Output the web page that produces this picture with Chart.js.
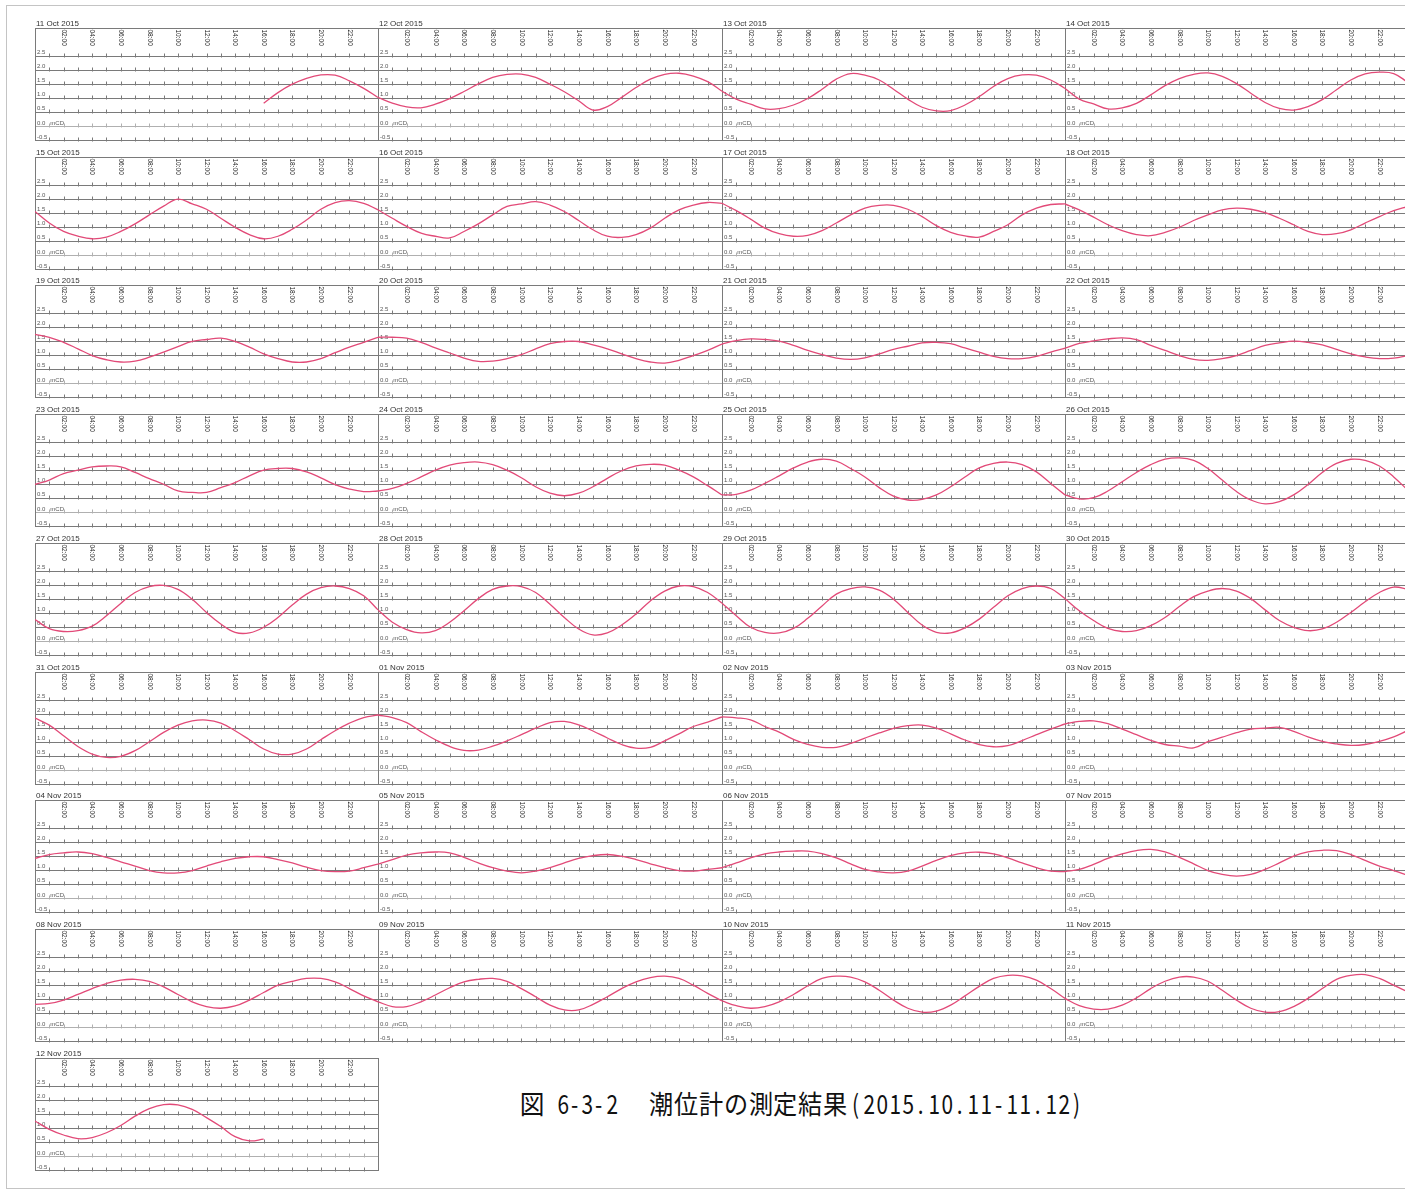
<!DOCTYPE html>
<html>
<head>
<meta charset="utf-8">
<script src="https://cdn.jsdelivr.net/npm/chart.js@4.4.0/dist/chart.umd.min.js"></script>
<style>
  html, body { margin: 0; padding: 0; background: #fff; }
  #page { position: relative; width: 1405px; height: 1192px; overflow: hidden; background: #fff; }
  #frame { position: absolute; left: 6px; top: 5px; width: 1420px; height: 1184px; border: 1px solid #c4c4c4; box-sizing: border-box; }
  canvas.panel { position: absolute; }
  .capseg { position: absolute; top: 1090px; height: 27px; white-space: nowrap; font-family: "Noto Sans CJK JP", sans-serif;
            font-size: 26px; line-height: 26px; color: #111; }
  .capseg span { display: inline-block; text-align: center; }
  .capseg span i { display: inline-block; font-style: normal; }
</style>
</head>
<body>
<div id="page">
  <div id="frame"></div>
</div>
<script>
// Tide level (m, CD) read hourly, 00:00 .. 23:00 of each day.
const oct11 = [null,null,null,null,null,null,null,null,null,null,null,null,null,null,null,null,0.82,1.20,1.50,1.71,1.83,1.82,1.62,1.35];
const oct12 = [1.03,0.83,0.69,0.66,0.79,0.99,1.24,1.51,1.74,1.85,1.86,1.74,1.50,1.23,0.91,0.58,0.70,1.03,1.38,1.68,1.85,1.89,1.79,1.59];
const oct13 = [1.25,0.97,0.79,0.62,0.63,0.76,0.99,1.32,1.68,1.88,1.82,1.65,1.32,0.97,0.68,0.55,0.56,0.76,1.06,1.42,1.70,1.83,1.82,1.65];
const oct14 = [1.35,0.97,0.80,0.62,0.66,0.82,1.12,1.45,1.70,1.85,1.90,1.78,1.52,1.18,0.85,0.64,0.58,0.70,0.95,1.30,1.65,1.87,1.93,1.88];
const oct15 = [1.56,1.15,0.85,0.68,0.59,0.65,0.85,1.12,1.44,1.75,2.00,1.83,1.64,1.32,1.00,0.74,0.59,0.68,0.93,1.26,1.64,1.88,1.95,1.85];
const oct16 = [1.62,1.32,1.03,0.79,0.68,0.62,0.85,1.12,1.44,1.74,1.83,1.91,1.79,1.56,1.24,0.91,0.68,0.64,0.74,0.97,1.32,1.62,1.79,1.88];
const oct17 = [1.85,1.59,1.29,0.97,0.77,0.68,0.71,0.88,1.15,1.44,1.68,1.78,1.78,1.64,1.38,1.06,0.82,0.69,0.65,0.85,1.09,1.44,1.68,1.81];
const oct18 = [1.83,1.62,1.36,1.09,0.88,0.74,0.70,0.82,1.00,1.24,1.44,1.62,1.68,1.64,1.52,1.32,1.09,0.85,0.74,0.77,0.91,1.15,1.38,1.59];
const oct19 = [1.74,1.64,1.46,1.23,0.99,0.84,0.76,0.79,0.93,1.11,1.31,1.49,1.56,1.61,1.49,1.29,1.05,0.88,0.76,0.76,0.88,1.09,1.29,1.46];
const oct20 = [1.64,1.64,1.61,1.46,1.26,1.08,0.90,0.78,0.79,0.88,1.02,1.23,1.41,1.49,1.49,1.37,1.23,1.05,0.88,0.76,0.72,0.82,0.99,1.17];
const oct21 = [1.40,1.52,1.58,1.56,1.50,1.35,1.17,1.02,0.90,0.85,0.91,1.05,1.21,1.32,1.44,1.46,1.41,1.26,1.11,0.96,0.88,0.88,0.96,1.11];
const oct22 = [1.25,1.42,1.51,1.58,1.62,1.56,1.35,1.17,0.99,0.85,0.82,0.88,0.99,1.17,1.35,1.44,1.50,1.46,1.37,1.21,1.05,0.94,0.88,0.90];
const oct23 = [0.99,1.15,1.38,1.50,1.62,1.65,1.62,1.42,1.20,1.00,0.76,0.71,0.71,0.88,1.06,1.30,1.50,1.56,1.56,1.44,1.23,0.99,0.83,0.74];
const oct24 = [0.76,0.85,1.03,1.26,1.50,1.68,1.77,1.79,1.70,1.50,1.23,0.91,0.68,0.59,0.68,0.91,1.21,1.48,1.65,1.71,1.68,1.50,1.26,0.95];
const oct25 = [0.62,0.64,0.79,1.03,1.30,1.58,1.79,1.89,1.82,1.56,1.26,0.88,0.58,0.44,0.46,0.62,0.91,1.26,1.58,1.74,1.79,1.70,1.44,1.03];
const oct26 = [0.62,0.48,0.52,0.76,1.09,1.42,1.70,1.89,1.94,1.85,1.56,1.15,0.74,0.44,0.30,0.38,0.62,0.99,1.42,1.74,1.89,1.85,1.65,1.26];
const oct27 = [0.78,0.45,0.35,0.38,0.54,0.91,1.35,1.74,1.95,1.99,1.85,1.50,1.03,0.62,0.32,0.30,0.50,0.85,1.29,1.68,1.91,1.97,1.88,1.62];
const oct28 = [1.12,0.68,0.42,0.30,0.38,0.68,1.09,1.52,1.85,1.97,1.95,1.74,1.32,0.85,0.44,0.23,0.30,0.58,0.97,1.44,1.79,1.97,1.95,1.74];
const oct29 = [1.36,0.91,0.50,0.32,0.30,0.46,0.82,1.26,1.68,1.88,1.94,1.82,1.50,1.03,0.58,0.32,0.30,0.48,0.79,1.21,1.62,1.88,1.97,1.88];
const oct30 = [1.52,1.09,0.74,0.46,0.35,0.38,0.56,0.85,1.24,1.59,1.79,1.88,1.79,1.52,1.12,0.74,0.50,0.38,0.44,0.68,1.03,1.41,1.74,1.93];
const oct31 = [1.86,1.61,1.23,0.85,0.58,0.46,0.50,0.70,1.02,1.35,1.61,1.76,1.79,1.68,1.41,1.09,0.76,0.58,0.58,0.76,1.09,1.41,1.68,1.88];
const nov01 = [1.97,1.88,1.70,1.38,1.09,0.85,0.71,0.72,0.86,1.05,1.27,1.50,1.70,1.74,1.62,1.40,1.15,0.92,0.79,0.82,1.05,1.30,1.56,1.72];
const nov02 = [1.90,1.87,1.80,1.56,1.36,1.10,0.92,0.82,0.82,0.96,1.15,1.33,1.49,1.59,1.61,1.50,1.30,1.08,0.92,0.84,0.88,1.06,1.27,1.47];
const nov03 = [1.65,1.74,1.76,1.66,1.47,1.27,1.07,0.92,0.86,0.80,1.02,1.18,1.34,1.47,1.50,1.53,1.39,1.19,1.03,0.94,0.89,0.92,1.03,1.19];
const nov04 = [1.42,1.56,1.62,1.65,1.59,1.46,1.30,1.15,0.99,0.91,0.91,0.99,1.15,1.30,1.42,1.48,1.48,1.38,1.26,1.11,0.99,0.95,0.97,1.09];
const nov05 = [1.22,1.38,1.54,1.62,1.65,1.62,1.46,1.26,1.09,0.97,0.91,0.97,1.09,1.26,1.42,1.52,1.56,1.50,1.38,1.23,1.09,0.99,0.97,1.03];
const nov06 = [1.09,1.26,1.44,1.58,1.65,1.68,1.68,1.59,1.44,1.23,1.03,0.94,0.91,0.97,1.15,1.35,1.52,1.62,1.64,1.58,1.44,1.26,1.09,0.97];
const nov07 = [0.95,1.03,1.21,1.42,1.58,1.70,1.74,1.65,1.46,1.23,0.99,0.85,0.79,0.85,1.03,1.26,1.50,1.65,1.71,1.70,1.56,1.35,1.15,0.99];
const nov08 = [0.82,0.85,0.97,1.17,1.38,1.56,1.68,1.71,1.64,1.44,1.17,0.91,0.74,0.68,0.76,0.97,1.24,1.50,1.64,1.74,1.74,1.62,1.38,1.12];
const nov09 = [0.91,0.74,0.74,0.91,1.15,1.41,1.62,1.71,1.74,1.64,1.38,1.09,0.79,0.62,0.62,0.82,1.09,1.38,1.62,1.77,1.82,1.74,1.50,1.21];
const nov10 = [0.94,0.77,0.68,0.74,0.91,1.17,1.48,1.74,1.82,1.79,1.62,1.32,0.97,0.68,0.54,0.58,0.79,1.12,1.46,1.74,1.85,1.83,1.68,1.38];
const nov11 = [1.03,0.77,0.65,0.65,0.79,1.05,1.38,1.64,1.79,1.79,1.64,1.32,0.97,0.68,0.54,0.56,0.74,1.03,1.38,1.71,1.85,1.88,1.74,1.50];
const nov12 = [1.26,0.96,0.76,0.63,0.67,0.84,1.10,1.43,1.70,1.84,1.83,1.67,1.38,1.06,0.70,0.55,0.61,null,null,null,null,null,null,null];

const dayLabels = ['11 Oct 2015','12 Oct 2015','13 Oct 2015','14 Oct 2015','15 Oct 2015','16 Oct 2015','17 Oct 2015','18 Oct 2015',
  '19 Oct 2015','20 Oct 2015','21 Oct 2015','22 Oct 2015','23 Oct 2015','24 Oct 2015','25 Oct 2015','26 Oct 2015',
  '27 Oct 2015','28 Oct 2015','29 Oct 2015','30 Oct 2015','31 Oct 2015','01 Nov 2015','02 Nov 2015','03 Nov 2015',
  '04 Nov 2015','05 Nov 2015','06 Nov 2015','07 Nov 2015','08 Nov 2015','09 Nov 2015','10 Nov 2015','11 Nov 2015','12 Nov 2015'];
const daySeries = [oct11,oct12,oct13,oct14,oct15,oct16,oct17,oct18,oct19,oct20,oct21,oct22,oct23,oct24,oct25,oct26,
  oct27,oct28,oct29,oct30,oct31,nov01,nov02,nov03,nov04,nov05,nov06,nov07,nov08,nov09,nov10,nov11,nov12];
const hourLabels = ['02:00','04:00','06:00','08:00','10:00','12:00','14:00','16:00','18:00','20:00','22:00'];
const levelTicks = [-0.5, 0.0, 0.5, 1.0, 1.5, 2.0, 2.5];
const captionParts = ['図', '6-3-2', '潮位計の測定結果', '(2015.10.11-11.12)'];

// Panel grid geometry
const COLS = 4;
const colX = [35, 378, 722, 1065, 1408];
const rowTop = r => Math.round(28 + r * 128.7);
const BOX_H = 114;
const PAD = { left: 4, right: 4, top: 16, bottom: 4 };

// Draws the hour ticks on every level line, the rotated clock labels, the box and the date.
const panelDecor = {
  id: 'panelDecor',
  beforeDatasetsDraw(chart, args, opts) {
    const { ctx, chartArea: a, scales: { x, y } } = chart;
    ctx.save();
    ctx.lineWidth = 1;
    for (const lv of levelTicks) {
      const py = Math.round(y.getPixelForValue(lv)) + 0.5;
      ctx.strokeStyle = lv === 0 ? '#b0b0b0' : '#7a7a7a';
      ctx.beginPath();
      for (let h = 1; h < 24; h++) {
        const px = Math.round(x.getPixelForValue(h)) + 0.5;
        ctx.moveTo(px, py - 3);
        ctx.lineTo(px, py + 1);
      }
      ctx.stroke();
    }
    ctx.fillStyle = '#222';
    ctx.font = '6.5px "Liberation Sans", Arial, sans-serif';
    ctx.textAlign = 'left';
    ctx.textBaseline = 'middle';
    for (const lab of hourLabels) {
      const px = x.getPixelForValue(parseInt(lab, 10));
      ctx.save();
      ctx.translate(px, a.top + 1.5);
      ctx.rotate(Math.PI / 2);
      ctx.fillText(lab, 0, 0);
      ctx.restore();
    }
    ctx.strokeStyle = '#7a7a7a';
    ctx.strokeRect(Math.round(a.left) + 0.5, Math.round(a.top) + 0.5, Math.round(a.right - a.left), Math.round(a.bottom - a.top));
    ctx.fillStyle = '#333';
    ctx.font = '8px "Liberation Sans", Arial, sans-serif';
    ctx.textBaseline = 'alphabetic';
    ctx.fillText(opts.title, a.left + 1, a.top - 2);
    ctx.restore();
  }
};

const page = document.getElementById('page');
daySeries.forEach((vals, i) => {
  const r = Math.floor(i / COLS), c = i % COLS;
  const left = colX[c], w = colX[c + 1] - colX[c], top = rowTop(r);
  const cv = document.createElement('canvas');
  cv.className = 'panel';
  const cw = w + PAD.left + PAD.right, ch = BOX_H + PAD.top + PAD.bottom;
  cv.width = cw; cv.height = ch;
  cv.style.width = cw + 'px'; cv.style.height = ch + 'px';
  cv.style.left = (left - PAD.left) + 'px';
  cv.style.top = (top - PAD.top) + 'px';
  page.appendChild(cv);

  const next = daySeries[i + 1];
  const pts = vals.map((v, h) => ({ x: h, y: v }));
  pts.push({ x: 24, y: next ? next[0] : null });

  new Chart(cv, {
    type: 'line',
    data: { datasets: [{ data: pts, borderColor: '#e24a78', borderWidth: 1.3, pointRadius: 0, tension: 0.4, fill: false, spanGaps: false }] },
    options: {
      responsive: false, animation: false, devicePixelRatio: 1,
      layout: { padding: PAD },
      scales: {
        x: { type: 'linear', min: 0, max: 24, display: false },
        y: {
          min: -0.5, max: 3.5,
          afterFit: s => { s.width = 0; },
          border: { display: false },
          grid: {
            drawTicks: false, lineWidth: 1,
            color: t => t.tick.value > 2.5 ? 'rgba(0,0,0,0)' : (t.tick.value === 0 ? '#b0b0b0' : '#7a7a7a')
          },
          ticks: {
            stepSize: 0.5, mirror: true, padding: 2, labelOffset: -3.5, color: '#555',
            font: { size: 6, family: '"Liberation Sans", Arial, sans-serif' },
            callback: v => v > 2.5 ? '' : (v === 0 ? '0.0   mCD' : v.toFixed(1))
          }
        }
      },
      plugins: { legend: { display: false }, tooltip: { enabled: false }, panelDecor: { title: dayLabels[i] } }
    },
    plugins: [panelDecor]
  });
});

// Caption set in fixed character cells (full width for kanji, half width for figures)
const capLayout = [
  { left: 519, cell: 25, squeeze: 0.95 },
  { left: 556, cell: 12.2, squeeze: 0.8 },
  { left: 648, cell: 24.9, squeeze: 0.93 },
  { left: 849, cell: 13.0, squeeze: 0.8 }
];
captionParts.forEach((txt, k) => {
  const seg = document.createElement('div');
  seg.className = 'capseg';
  seg.style.left = capLayout[k].left + 'px';
  for (const ch of txt) {
    const cell = document.createElement('span');
    cell.style.width = capLayout[k].cell + 'px';
    const g = document.createElement('i');
    g.textContent = ch;
    g.style.transform = 'scaleX(' + capLayout[k].squeeze + ')';
    cell.appendChild(g);
    seg.appendChild(cell);
  }
  page.appendChild(seg);
});
</script>
</body>
</html>
